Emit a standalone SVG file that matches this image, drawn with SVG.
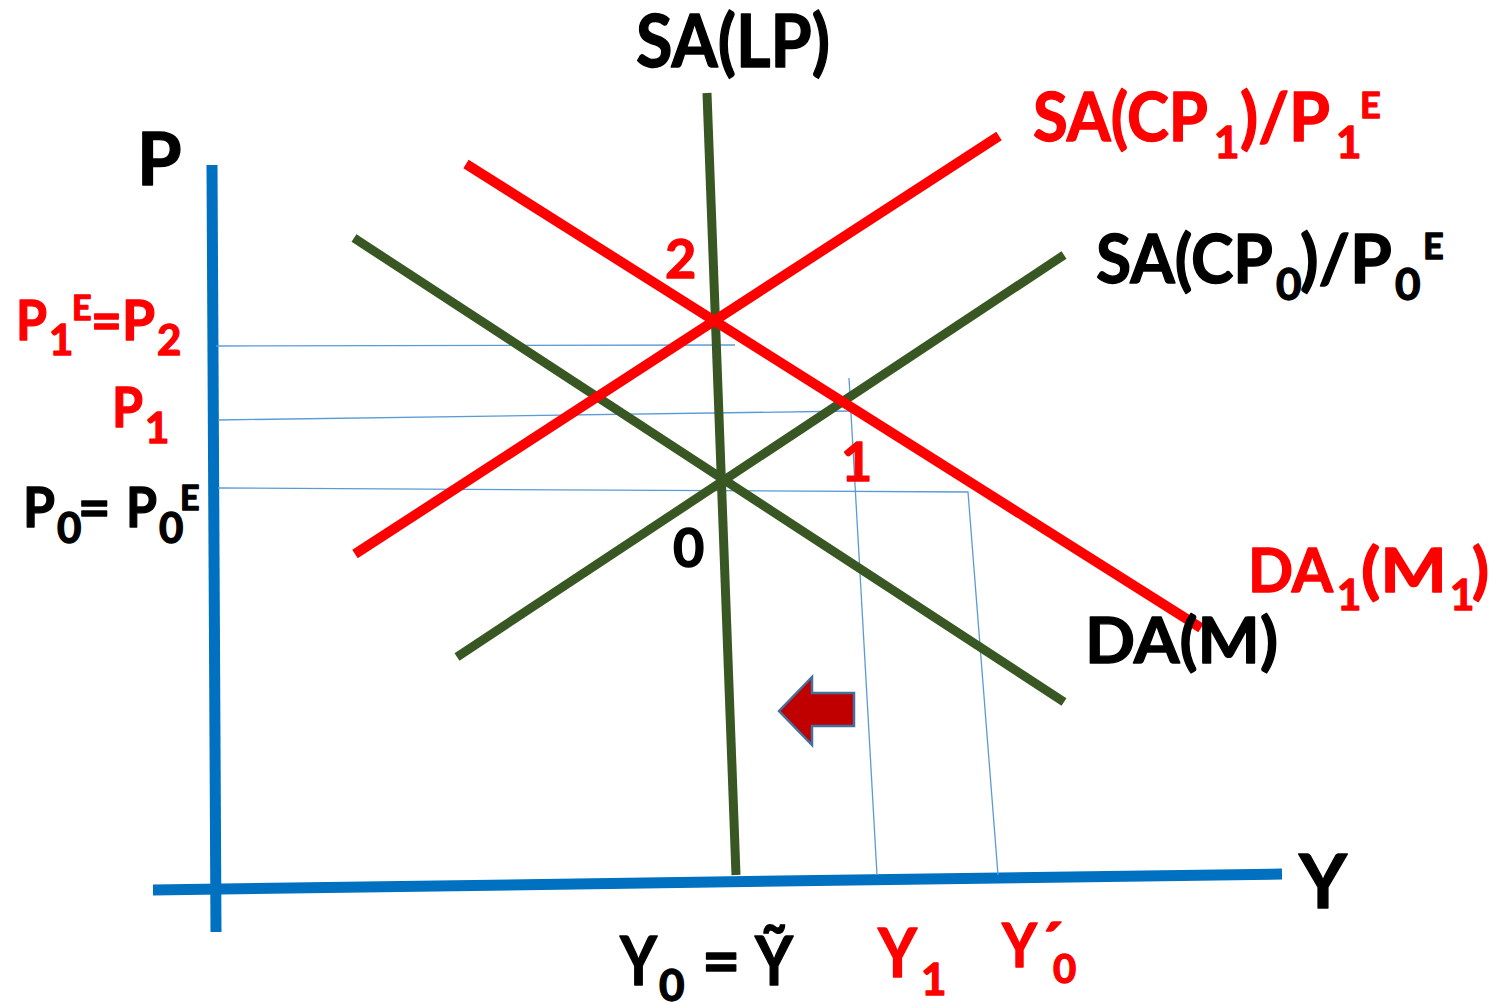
<svg xmlns="http://www.w3.org/2000/svg" width="1494" height="1003" viewBox="0 0 1494 1003">
<style>
text{font-family:Lato,"Open Sans","Liberation Sans",sans-serif;font-weight:700;stroke-width:1.3;stroke-linejoin:round}
.r{fill:#FF0000;stroke:#FF0000}
.k{fill:#000000;stroke:#000000}
.axis{stroke:#0070C0;stroke-width:11;fill:none}
.grn{stroke:#385723;stroke-width:9;fill:none}
.red{stroke:#FF0000;stroke-width:10;fill:none}
.thin{stroke:#5B9BD5;stroke-width:1.3;fill:none}
</style>
<rect width="1494" height="1003" fill="#FFFFFF"/>
<g id="axes">
<line class="axis" x1="212" y1="165" x2="216" y2="932"/>
<line class="axis" x1="153" y1="890" x2="1282" y2="874" stroke-width="12"/>
</g>
<g id="connectors">
<polyline class="thin" points="216,346 735,345"/>
<polyline class="thin" points="218,420 852,411"/>
<polyline class="thin" points="849,378 877,875"/>
<polyline class="thin" points="218,488 968,492 998,875"/>
<line class="grn" x1="707" y1="93" x2="736" y2="875" stroke-width="7"/>
<line class="grn" x1="457" y1="657" x2="1064" y2="255"/>
<line class="grn" x1="354" y1="238" x2="1064" y2="702"/>
<line class="red" x1="355" y1="554" x2="999" y2="136"/>
<line class="red" x1="466" y1="164" x2="1201" y2="628"/>
</g>
<g id="arrow">
<polygon points="779,711 812,677 812,693 854,693 854,726 812,726 812,745" fill="#C00000" stroke="#41719C" stroke-width="2.5" stroke-linejoin="miter"/>
</g>
<g id="label-P"><text class="k" x="137" y="185" font-size="72">P</text></g>
<g id="label-Y"><text class="k" x="1299" y="908" font-size="74">Y</text></g>
<g id="label-SALP"><text class="k" x="636" y="67" font-size="72" textLength="194" lengthAdjust="spacingAndGlyphs">SA(LP)</text></g>
<g id="label-SACP1">
<text class="r" font-size="66"><tspan x="1033" y="141" textLength="175" lengthAdjust="spacingAndGlyphs">SA(CP</tspan><tspan x="1214" y="158" font-size="44">1</tspan><tspan x="1240" y="141" textLength="90" lengthAdjust="spacingAndGlyphs">)/P</tspan><tspan x="1336" y="158" font-size="44">1</tspan><tspan x="1360" y="118" font-size="36">E</tspan></text>
</g>
<g id="label-SACP0">
<text class="k" font-size="66"><tspan x="1096" y="283" textLength="177" lengthAdjust="spacingAndGlyphs">SA(CP</tspan><tspan x="1276" y="300" font-size="44">0</tspan><tspan x="1300" y="283" textLength="92" lengthAdjust="spacingAndGlyphs">)/P</tspan><tspan x="1395" y="300" font-size="44">0</tspan><tspan x="1423" y="259" font-size="36">E</tspan></text>
</g>
<g id="label-DA1">
<text class="r" font-size="62"><tspan x="1248" y="592" textLength="85" lengthAdjust="spacingAndGlyphs">DA</tspan><tspan x="1337" y="610" font-size="42">1</tspan><tspan x="1361" y="592" textLength="86" lengthAdjust="spacingAndGlyphs">(M</tspan><tspan x="1450" y="610" font-size="42">1</tspan><tspan x="1472" y="592">)</tspan></text>
</g>
<g id="label-DA"><text class="k" x="1085" y="663" font-size="64" textLength="193" lengthAdjust="spacingAndGlyphs">DA(M)</text></g>
<g id="label-2"><text class="r" x="665" y="278" font-size="54">2</text></g>
<g id="label-1"><text class="r" x="841" y="481" font-size="54">1</text></g>
<g id="label-0"><text class="k" x="673" y="567" font-size="54">0</text></g>
<g id="label-P1E-P2">
<text class="r" font-size="56"><tspan x="16" y="340" textLength="31" lengthAdjust="spacingAndGlyphs">P</tspan><tspan x="49" y="355" font-size="42">1</tspan><tspan x="72" y="320" font-size="34">E</tspan><tspan x="91" y="340" textLength="64" lengthAdjust="spacingAndGlyphs">=P</tspan><tspan x="157" y="355" font-size="42">2</tspan></text>
</g>
<g id="label-P1">
<text class="r" font-size="56"><tspan x="112" y="427" textLength="31" lengthAdjust="spacingAndGlyphs">P</tspan><tspan x="145" y="443" font-size="42">1</tspan></text>
</g>
<g id="label-P0">
<text class="k" font-size="56"><tspan x="23" y="527" textLength="32" lengthAdjust="spacingAndGlyphs">P</tspan><tspan x="57" y="543" font-size="42">0</tspan><tspan x="78" y="527">=</tspan><tspan x="126" y="527" textLength="31" lengthAdjust="spacingAndGlyphs">P</tspan><tspan x="159" y="543" font-size="42">0</tspan><tspan x="180" y="510" font-size="34">E</tspan></text>
</g>
<g id="label-Y0">
<text class="k" font-size="66"><tspan x="620" y="985" textLength="37" lengthAdjust="spacingAndGlyphs">Y</tspan><tspan x="659" y="1001" font-size="44">0</tspan><tspan x="702" y="985">=</tspan><tspan x="755" y="985" textLength="38" lengthAdjust="spacingAndGlyphs">Ỹ</tspan></text>
</g>
<g id="label-Y1">
<text class="r" font-size="66"><tspan x="878" y="977" textLength="39" lengthAdjust="spacingAndGlyphs">Y</tspan><tspan x="921" y="995" font-size="44">1</tspan></text>
</g>
<g id="label-Yp0">
<text class="r" font-size="62"><tspan x="1002" y="967" textLength="35" lengthAdjust="spacingAndGlyphs">Y</tspan><tspan x="1038" y="967">´</tspan><tspan x="1053" y="983" font-size="40">0</tspan></text>
</g>
</svg>
